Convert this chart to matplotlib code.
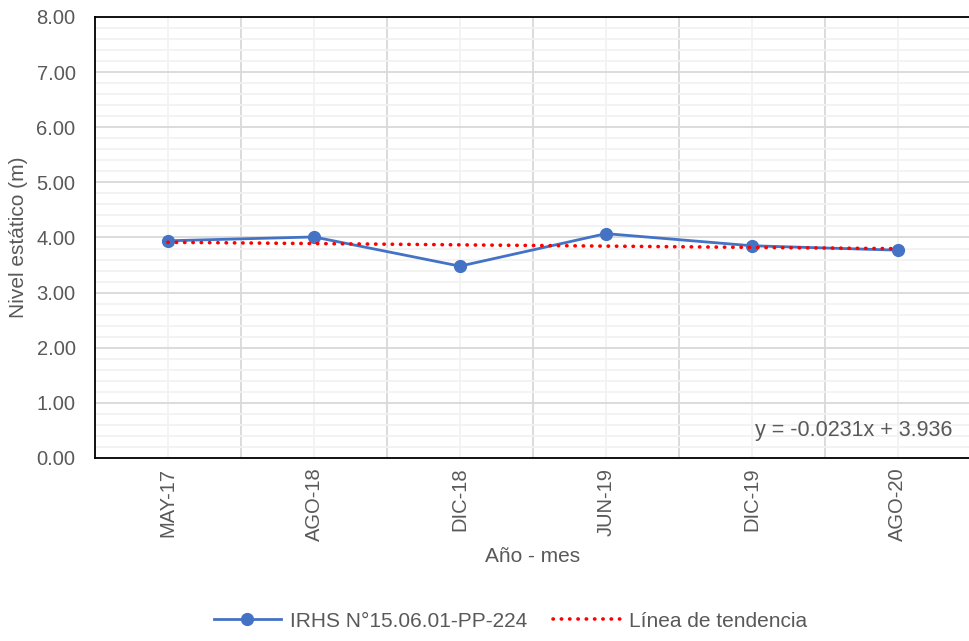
import numpy as np
import matplotlib
matplotlib.use('Agg')
import matplotlib.pyplot as plt
from matplotlib.ticker import MultipleLocator, FixedLocator

plt.rcParams['font.family'] = ['Liberation Sans Narrow', 'Liberation Sans', 'DejaVu Sans']

meses = ['MAY-17', 'AGO-18', 'DIC-18', 'JUN-19', 'DIC-19', 'AGO-20']
nivel = [3.94, 4.01, 3.48, 4.07, 3.85, 3.77]
pendiente = -0.0231
intercepto = 3.936
serie = 'IRHS N°15.06.01-PP-224'

gris = '#595959'

fig = plt.figure(figsize=(9.69, 6.41), dpi=100)
ax = fig.add_axes([0.098, 0.2855, 0.904, 0.688])

x = np.arange(len(meses))
ax.plot(x, nivel, color='#4472C4', lw=2.0, marker='o', ms=8.5, label=serie, zorder=3)

xt = x + 1
tend = pendiente * xt + intercepto
ax.plot(x, tend, color='#FF0000', lw=2.6, linestyle=(0, (0.1, 2.2)),
        dash_capstyle='round', label='Línea de tendencia', zorder=4)

ax.text(4.70, 0.49, 'y = -0.0231x + 3.936', fontsize=15.5, color=gris,
        ha='center', va='center')

ax.set_xlim(-0.5, len(meses) - 0.5)
ax.set_ylim(0, 8)
ax.set_xticks(x)
ax.set_xticklabels(meses, rotation=90)
ax.xaxis.set_minor_locator(FixedLocator(np.arange(-0.5, len(meses), 1.0)))
ax.yaxis.set_major_locator(MultipleLocator(1))
ax.yaxis.set_minor_locator(MultipleLocator(0.2))
ax.yaxis.set_major_formatter(matplotlib.ticker.FormatStrFormatter('%.2f'))

# lineas de grilla: horizontales mayores, verticales en los limites de categoria
ax.grid(axis='y', which='major', color='#d9d9d9', lw=1.3)
ax.grid(axis='y', which='minor', color='#f2f2f2', lw=1.3)
ax.grid(axis='x', which='minor', color='#d9d9d9', lw=1.3)
ax.grid(axis='x', which='major', color='#f2f2f2', lw=1.3)
ax.set_axisbelow(True)

ax.tick_params(which='both', length=0, labelsize=14.5, labelcolor=gris)
ax.tick_params(axis='y', pad=14)
ax.tick_params(axis='x', pad=7)

for s in ['left', 'bottom', 'top']:
    ax.spines[s].set_color('black')
    ax.spines[s].set_linewidth(1.3)
ax.spines['right'].set_visible(False)

ax.set_xlabel('Año - mes', fontsize=15, color=gris, labelpad=4)
ax.set_ylabel('Nivel estático (m)', fontsize=15, color=gris, labelpad=6)

fig.legend(loc='center', bbox_to_anchor=(0.527, 0.031), ncol=2, frameon=False,
           fontsize=15, labelcolor=gris, handlelength=3.2, handletextpad=0.45,
           columnspacing=1.25)

fig.savefig('out.png', dpi=100)
